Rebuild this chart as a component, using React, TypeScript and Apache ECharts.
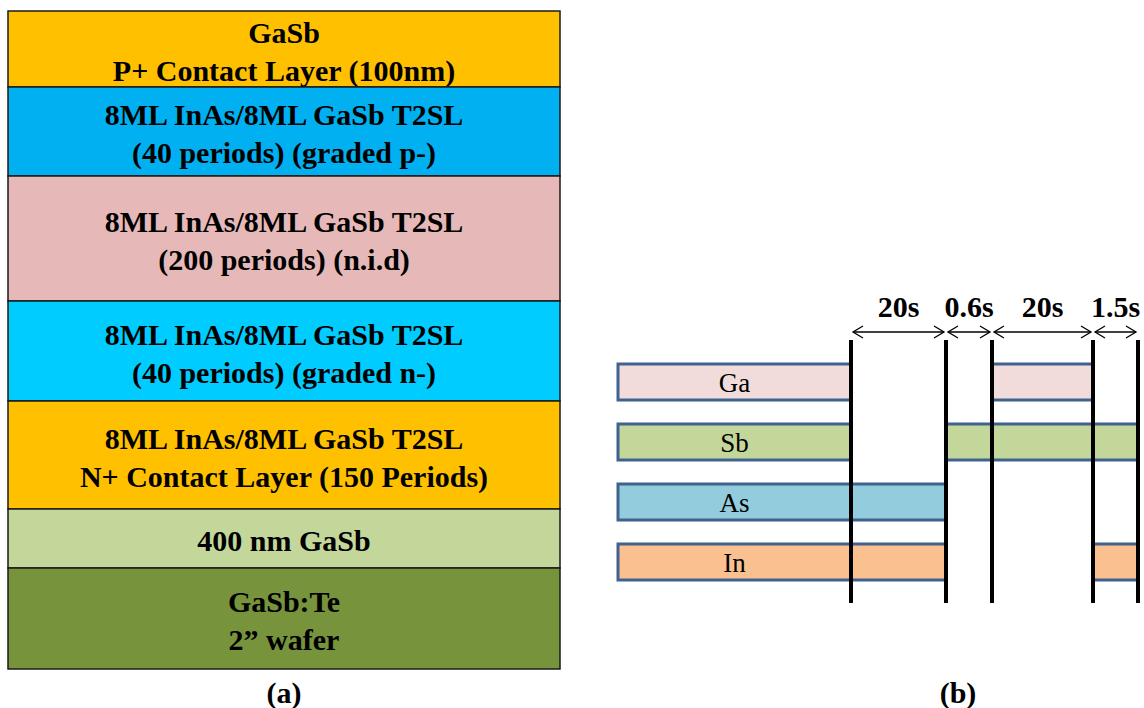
import React, { useEffect, useRef } from "react";
import * as echarts from "echarts";

// (a) epitaxial layer stack, top to bottom
const layerLabels = [
  "GaSb\nP+ Contact Layer (100nm)",
  "8ML InAs/8ML GaSb T2SL\n(40 periods) (graded p-)",
  "8ML InAs/8ML GaSb T2SL\n(200 periods) (n.i.d)",
  "8ML InAs/8ML GaSb T2SL\n(40 periods) (graded n-)",
  "8ML InAs/8ML GaSb T2SL\nN+ Contact Layer (150 Periods)",
  "400 nm GaSb",
  "GaSb:Te\n2\u201d wafer",
];
// drawn thickness of each layer (schematic units)
const layerThickness = [76, 89, 125, 100, 108, 59, 101];
const layerColors = ["#FFC000", "#00B0F0", "#E6B9B8", "#00CCFF", "#FFC000", "#C4D79B", "#77933C"];

// (b) shutter sequence
const sources = ["Ga", "Sb", "As", "In"];
const sourceColors = ["#F2DCDB", "#C4D79B", "#93CDDD", "#FAC090"];
// switching instants along the (schematic) schedule axis
const switchPoints = [233, 328, 374, 475, 520];
const intervalLabels = ["20s", "0.6s", "20s", "1.5s"];
// open-shutter segments: [source index, from, to]
const shutterOpen: number[][] = [
  [0, 0, 233],
  [0, 374, 475],
  [1, 0, 233],
  [1, 328, 475],
  [1, 475, 520],
  [2, 0, 233],
  [2, 233, 328],
  [3, 0, 233],
  [3, 233, 328],
  [3, 475, 520],
];

const SERIF = "'Liberation Serif', 'Times New Roman', Times, serif";

export default function App() {
  const ref = useRef<HTMLDivElement>(null);

  useEffect(() => {
    if (!ref.current) return;
    const chart = echarts.init(ref.current, undefined, { renderer: "svg" });

    const layerData: number[][] = [];
    let acc = 0;
    layerThickness.forEach((t, i) => {
      layerData.push([i, acc, acc + t]);
      acc += t;
    });
    const total = acc;

    const intervalData = intervalLabels.map((_, i) => [switchPoints[i], switchPoints[i + 1], i]);

    const captionStyle = {
      fontFamily: SERIF,
      fontWeight: "bold",
      fontSize: 30,
      fill: "#000",
      align: "center",
      verticalAlign: "middle",
    };

    const option: any = {
      animation: false,
      backgroundColor: "#ffffff",
      grid: [
        { left: 8, top: 11, width: 552, height: 658 },
        { left: 618, top: 352, width: 520, height: 240 },
      ],
      xAxis: [
        { gridIndex: 0, type: "value", min: 0, max: 1, show: false },
        { gridIndex: 1, type: "value", min: 0, max: switchPoints[switchPoints.length - 1], show: false },
      ],
      yAxis: [
        { gridIndex: 0, type: "value", min: 0, max: total, inverse: true, show: false },
        { gridIndex: 1, type: "category", data: sources, inverse: true, show: false },
      ],
      graphic: [
        { type: "text", x: 284, y: 692, style: { ...captionStyle, text: "(a)" } },
        { type: "text", x: 958, y: 692, style: { ...captionStyle, text: "(b)" } },
      ],
      series: [
        {
          type: "custom",
          xAxisIndex: 0,
          yAxisIndex: 0,
          data: layerData,
          clip: false,
          renderItem: (params: any, api: any) => {
            const i = api.value(0);
            const p0 = api.coord([0, api.value(1)]);
            const p1 = api.coord([1, api.value(2)]);
            return {
              type: "group",
              children: [
                {
                  type: "rect",
                  shape: { x: p0[0], y: p0[1], width: p1[0] - p0[0], height: p1[1] - p0[1] },
                  style: { fill: layerColors[i], stroke: "#1a1a1a", lineWidth: 1.5 },
                },
                {
                  type: "text",
                  x: (p0[0] + p1[0]) / 2,
                  y: (p0[1] + p1[1]) / 2 + 2,
                  style: {
                    text: layerLabels[i],
                    fontFamily: SERIF,
                    fontWeight: "bold",
                    fontSize: 30,
                    lineHeight: 38,
                    fill: "#000",
                    align: "center",
                    verticalAlign: "middle",
                  },
                },
              ],
            };
          },
        },
        {
          type: "custom",
          xAxisIndex: 1,
          yAxisIndex: 1,
          data: shutterOpen,
          clip: false,
          z: 2,
          renderItem: (params: any, api: any) => {
            const s = api.value(0);
            const a = api.coord([api.value(1), s]);
            const b = api.coord([api.value(2), s]);
            const h = api.size([0, 1])[1] * 0.6;
            const children: any[] = [
              {
                type: "rect",
                shape: { x: a[0], y: a[1] - h / 2, width: b[0] - a[0], height: h },
                style: { fill: sourceColors[s], stroke: "#3F6290", lineWidth: 3 },
              },
            ];
            if (api.value(1) === 0) {
              children.push({
                type: "text",
                x: (a[0] + b[0]) / 2,
                y: a[1] + 1,
                style: {
                  text: sources[s],
                  fontFamily: SERIF,
                  fontSize: 27,
                  fill: "#000",
                  align: "center",
                  verticalAlign: "middle",
                },
              });
            }
            return { type: "group", children };
          },
        },
        {
          type: "custom",
          xAxisIndex: 1,
          yAxisIndex: 1,
          data: switchPoints.map((v) => [v]),
          clip: false,
          z: 3,
          renderItem: (params: any, api: any) => {
            const cs = params.coordSys;
            const x = api.coord([api.value(0), 0])[0];
            return {
              type: "line",
              shape: { x1: x, y1: cs.y - 12, x2: x, y2: cs.y + cs.height + 11 },
              style: { stroke: "#000", lineWidth: 4 },
            };
          },
        },
        {
          type: "custom",
          xAxisIndex: 1,
          yAxisIndex: 1,
          data: intervalData,
          clip: false,
          z: 3,
          renderItem: (params: any, api: any) => {
            const cs = params.coordSys;
            const x1 = api.coord([api.value(0), 0])[0] + 2;
            const x2 = api.coord([api.value(1), 0])[0] - 2;
            const y = cs.y - 20;
            const ah = 10;
            const aw = 6;
            const st = { stroke: "#000", lineWidth: 1.3, fill: "none" };
            return {
              type: "group",
              children: [
                { type: "line", shape: { x1, y1: y, x2, y2: y }, style: st },
                {
                  type: "polyline",
                  shape: { points: [[x1 + ah, y - aw], [x1, y], [x1 + ah, y + aw]] },
                  style: st,
                },
                {
                  type: "polyline",
                  shape: { points: [[x2 - ah, y - aw], [x2, y], [x2 - ah, y + aw]] },
                  style: st,
                },
                {
                  type: "text",
                  x: (x1 + x2) / 2,
                  y: cs.y - 46,
                  style: {
                    text: intervalLabels[api.value(2)],
                    fontFamily: SERIF,
                    fontWeight: "bold",
                    fontSize: 30,
                    fill: "#000",
                    align: "center",
                    verticalAlign: "middle",
                  },
                },
              ],
            };
          },
        },
      ],
    };

    chart.setOption(option);
    return () => chart.dispose();
  }, []);

  return (
    <div
      ref={ref}
      style={{ position: "fixed", left: 0, top: 0, width: 1144, height: 708, background: "#fff" }}
    />
  );
}
